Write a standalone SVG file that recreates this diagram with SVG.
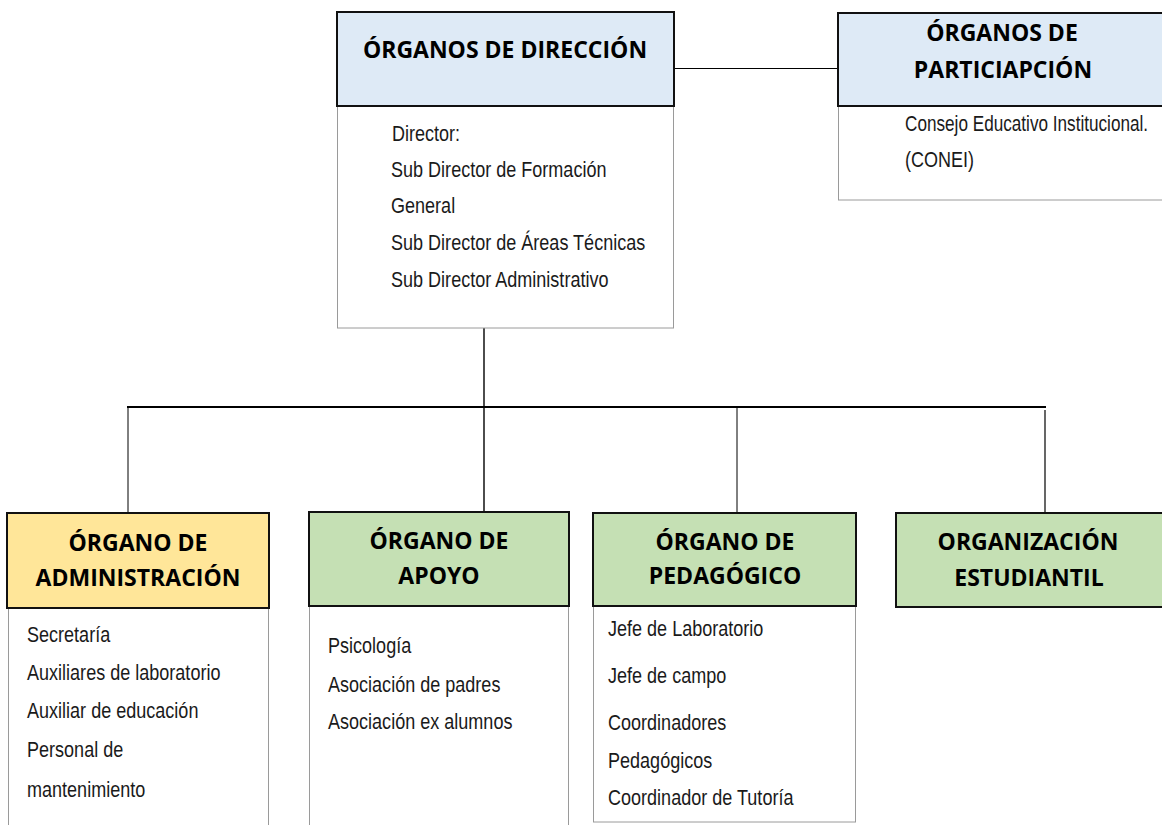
<svg xmlns="http://www.w3.org/2000/svg" width="1162" height="825" viewBox="0 0 1162 825">
<style>
.hdr{stroke:#111;stroke-width:2}
.blue{fill:#DEEAF6}
.green{fill:#C5E0B4}
.yellow{fill:#FFE699}
.panel{fill:#fff;stroke:#9a9a9a;stroke-width:1}
.ht{font-family:"Open Sans","Noto Sans",sans-serif;font-weight:bold;font-size:23px;fill:#000;text-anchor:middle}
.bt{font-family:"Liberation Sans",Arial,sans-serif;font-size:22px;fill:#1a1a1a}
.con{stroke:#000;fill:none}
</style>
<rect width="1162" height="825" fill="#fff"/>
<g id="connectors">
<line class="con" x1="674" y1="68.5" x2="838" y2="68.5" stroke-width="1.2"/>
<line class="con" x1="484" y1="328" x2="484" y2="512" stroke-width="1.4"/>
<line class="con" x1="127" y1="407" x2="1046" y2="407" stroke-width="2.2"/>
<line class="con" x1="128" y1="407" x2="128" y2="512" stroke-width="1" stroke="#333"/>
<line class="con" x1="737" y1="407" x2="737" y2="512" stroke-width="1" stroke="#333"/>
<line class="con" x1="1045" y1="410" x2="1045" y2="512" stroke-width="1.2" stroke="#555"/>
</g>
<g id="direccion">
<rect class="panel" x="337.5" y="106" width="336" height="222"/>
<rect class="hdr blue" x="337" y="12" width="337" height="94"/>
<text class="ht" x="505" y="58">ÓRGANOS DE DIRECCIÓN</text>
<g class="bt">
<text transform="translate(392 141) scale(0.82 1)">Director:</text>
<text transform="translate(391 177) scale(0.82 1)">Sub Director de Formación</text>
<text transform="translate(391 213) scale(0.82 1)">General</text>
<text transform="translate(391 250) scale(0.82 1)">Sub Director de Áreas Técnicas</text>
<text transform="translate(391 287) scale(0.82 1)">Sub Director Administrativo</text>
</g>
</g>
<g id="participacion">
<rect class="panel" x="838.5" y="106" width="330" height="94"/>
<rect class="hdr blue" x="838" y="13" width="330" height="93"/>
<text class="ht" x="1002" y="41">ÓRGANOS DE</text>
<text class="ht" x="1003" y="78">PARTICIAPCIÓN</text>
<g class="bt">
<text transform="translate(905 131) scale(0.78 1)">Consejo Educativo Institucional.</text>
<text transform="translate(905 167) scale(0.82 1)">(CONEI)</text>
</g>
</g>
<g id="administracion">
<rect class="panel" x="8.5" y="607" width="260" height="230"/>
<rect class="hdr yellow" x="7" y="513" width="262" height="95"/>
<text class="ht" x="138" y="551">ÓRGANO DE</text>
<text class="ht" x="138" y="586">ADMINISTRACIÓN</text>
<g class="bt">
<text transform="translate(27 642) scale(0.82 1)">Secretaría</text>
<text transform="translate(27 680) scale(0.82 1)">Auxiliares de laboratorio</text>
<text transform="translate(27 718) scale(0.82 1)">Auxiliar de educación</text>
<text transform="translate(27 757) scale(0.82 1)">Personal de</text>
<text transform="translate(27 797) scale(0.82 1)">mantenimiento</text>
</g>
</g>
<g id="apoyo">
<rect class="panel" x="309.5" y="606" width="259" height="230"/>
<rect class="hdr green" x="309" y="512" width="260" height="94"/>
<text class="ht" x="439" y="549">ÓRGANO DE</text>
<text class="ht" x="439" y="584">APOYO</text>
<g class="bt">
<text transform="translate(328 653) scale(0.82 1)">Psicología</text>
<text transform="translate(328 692) scale(0.82 1)">Asociación de padres</text>
<text transform="translate(328 729) scale(0.82 1)">Asociación ex alumnos</text>
</g>
</g>
<g id="pedagogico">
<rect class="panel" x="593.5" y="606" width="262" height="216"/>
<rect class="hdr green" x="593" y="513" width="263" height="93"/>
<text class="ht" x="725" y="550">ÓRGANO DE</text>
<text class="ht" x="725" y="584">PEDAGÓGICO</text>
<g class="bt">
<text transform="translate(608 636) scale(0.82 1)">Jefe de Laboratorio</text>
<text transform="translate(608 683) scale(0.82 1)">Jefe de campo</text>
<text transform="translate(608 730) scale(0.82 1)">Coordinadores</text>
<text transform="translate(608 768) scale(0.82 1)">Pedagógicos</text>
<text transform="translate(608 805) scale(0.82 1)">Coordinador de Tutoría</text>
</g>
</g>
<g id="estudiantil">
<rect class="hdr green" x="896" y="513" width="270" height="94"/>
<text class="ht" x="1028" y="550">ORGANIZACIÓN</text>
<text class="ht" x="1029" y="586">ESTUDIANTIL</text>
</g>
</svg>
